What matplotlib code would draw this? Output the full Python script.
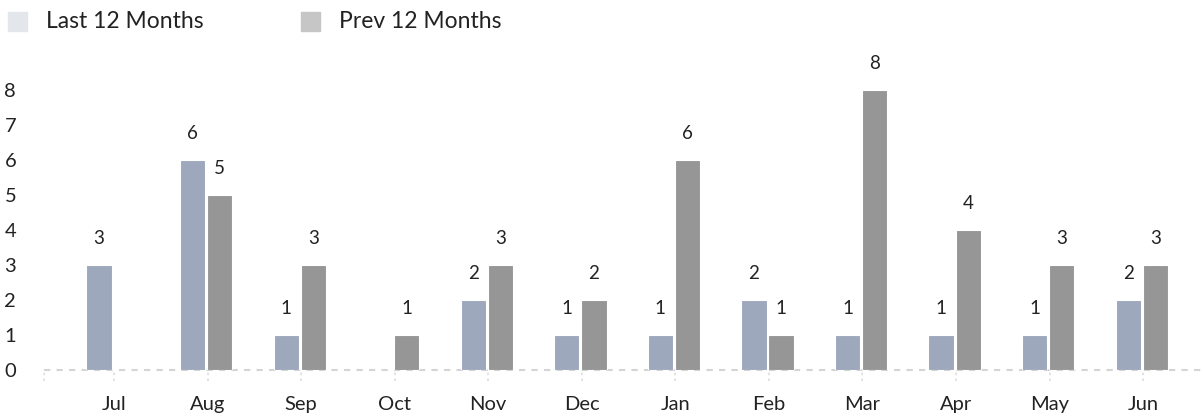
import matplotlib
matplotlib.use("Agg")
import matplotlib.pyplot as plt
from matplotlib.patches import Rectangle
from matplotlib.transforms import blended_transform_factory
import numpy as np

plt.rcParams['font.family'] = ['Lato', 'DejaVu Sans']

months = ["Jul", "Aug", "Sep", "Oct", "Nov", "Dec", "Jan", "Feb", "Mar", "Apr", "May", "Jun"]
last_12 = [3, 6, 1, 0, 2, 1, 1, 2, 1, 1, 1, 2]
prev_12 = [0, 5, 3, 1, 3, 2, 6, 1, 8, 4, 3, 3]
series_names = ["Last 12 Months", "Prev 12 Months"]

bar_colors = ["#9da8bc", "#969696"]
legend_colors = ["#e3e6eb", "#c6c6c6"]

fig = plt.figure(figsize=(12.04, 4.2), dpi=100)
ax = fig.add_axes([44 / 1204, 50 / 420, 1 - 44 / 1204, 315 / 420])

x = np.arange(len(months))
w = 0.27
off = 0.145
b1 = ax.bar(x - off - 0.015, last_12, w, color=bar_colors[0], edgecolor="white", linewidth=0.8)
b2 = ax.bar(x + off - 0.015, prev_12, w, color=bar_colors[1], edgecolor="white", linewidth=0.8)

for bars, vals in [(b1, last_12), (b2, prev_12)]:
    for rect, v in zip(bars, vals):
        if v == 0:
            continue
        ax.annotate(str(v), (rect.get_x() + rect.get_width() / 2, v),
                    xytext=(0, 19), textcoords="offset points",
                    ha="center", va="center", fontsize=13.5, color="#222222")

ax.set_xlim(-0.748, 11.65)
ax.set_ylim(0, 9)
ax.set_yticks(range(0, 9))
ax.set_xticks(x)
ax.set_xticklabels(months)
for s in ax.spines.values():
    s.set_visible(False)
ax.tick_params(axis="y", length=0, pad=20, labelsize=14.5, labelcolor="#222222")
ax.tick_params(axis="x", length=0, pad=19, labelsize=14.5, labelcolor="#222222")

ax.axhline(0, color="#d4d4d4", linestyle=(0, (3, 3)), linewidth=1.5, clip_on=False, zorder=0)
trans = blended_transform_factory(ax.transData, ax.transAxes)
tick_pos = list(x) + [-0.748]
ax.vlines(tick_pos, -0.035, 0, transform=trans, color="#dddddd",
          linestyle=(0, (1.5, 2)), linewidth=1.2, clip_on=False)

# legend drawn by hand at top left
legend_x = [8, 301]
for lx, name, c in zip(legend_x, series_names, legend_colors):
    fig.patches.append(Rectangle((lx / 1204, 1 - 31 / 420), 19 / 1204, 19 / 420,
                                 transform=fig.transFigure, color=c))
    fig.text((lx + 38) / 1204, 1 - 22 / 420, name, fontsize=16.5, color="#222222",
             va="center", ha="left")

fig.savefig("out.png", dpi=100)
